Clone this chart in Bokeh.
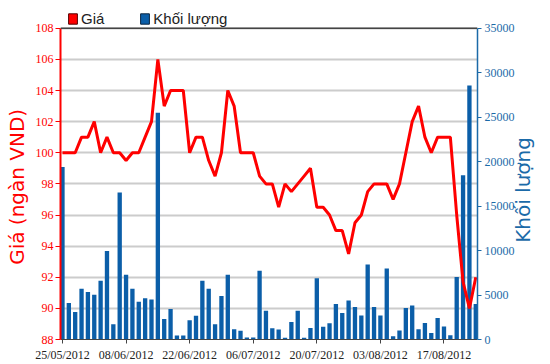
import math
from bokeh.plotting import figure
from bokeh.models import (Range1d, LinearAxis, FixedTicker, Legend, LegendItem,
                          Span, ColumnDataSource)
from bokeh.embed import file_html
from bokeh.resources import INLINE

dates = ["25/05/2012",
         "28/05/2012", "29/05/2012", "30/05/2012", "31/05/2012", "01/06/2012",
         "04/06/2012", "05/06/2012", "06/06/2012", "07/06/2012", "08/06/2012",
         "11/06/2012", "12/06/2012", "13/06/2012", "14/06/2012", "15/06/2012",
         "18/06/2012", "19/06/2012", "20/06/2012", "21/06/2012", "22/06/2012",
         "25/06/2012", "26/06/2012", "27/06/2012", "28/06/2012", "29/06/2012",
         "02/07/2012", "03/07/2012", "04/07/2012", "05/07/2012", "06/07/2012",
         "09/07/2012", "10/07/2012", "11/07/2012", "12/07/2012", "13/07/2012",
         "16/07/2012", "17/07/2012", "18/07/2012", "19/07/2012", "20/07/2012",
         "23/07/2012", "24/07/2012", "25/07/2012", "26/07/2012", "27/07/2012",
         "30/07/2012", "31/07/2012", "01/08/2012", "02/08/2012", "03/08/2012",
         "06/08/2012", "07/08/2012", "08/08/2012", "09/08/2012", "10/08/2012",
         "13/08/2012", "14/08/2012", "15/08/2012", "16/08/2012", "17/08/2012",
         "20/08/2012", "21/08/2012", "22/08/2012", "23/08/2012", "24/08/2012"]

price = [100, 100, 100, 101, 101, 102, 100, 101, 100, 100,
         99.5, 100, 100, 101, 102, 106, 103, 104, 104, 104,
         100, 101, 101, 99.5, 98.5, 100, 104, 103, 100, 100,
         100, 98.5, 98, 98, 96.5, 98, 97.5, 98, 98.5, 99,
         96.5, 96.5, 96, 95, 95, 93.5, 95.5, 96, 97.5, 98,
         98, 98, 97, 98, 100, 102, 103, 101, 100, 101,
         101, 101, 96, 91.7, 90, 92]

volume = [19400, 4100, 3090, 5720, 5350, 5020, 6620, 9960, 1710, 16540,
          7290, 5720, 4240, 4650, 4500, 25500, 2300, 3420, 450, 450,
          2160, 2680, 6620, 5720, 1710, 4900, 7290, 1150, 970, 220,
          220, 7730, 3230, 1260, 1130, 200, 1980, 3230, 200, 1300,
          6900, 1430, 1840, 3980, 2970, 4390, 3660, 2690, 8420, 3660,
          2710, 7990, 370, 1000, 3530, 3830, 1150, 1860, 740, 2410,
          1450, 480, 7020, 18480, 28550, 3980]

tick_labels = ["25/05/2012", "08/06/2012", "22/06/2012", "06/07/2012",
               "20/07/2012", "03/08/2012", "17/08/2012"]
price_ticks = [88, 90, 92, 94, 96, 98, 100, 102, 104, 106, 108]
volume_ticks = [0, 5000, 10000, 15000, 20000, 25000, 30000, 35000]
price_title = "Giá (ngàn VND)"
volume_title = "Khối lượng"
legend_labels = ["Giá", "Khối lượng"]

RED = "#ff0000"
BLUE = "#0b5ea8"
BLUE_TXT = "#1b6aa8"
NARROW = "Liberation Sans Narrow"

x = list(range(len(dates)))
src = ColumnDataSource(dict(x=x, price=price, volume=volume))
tick_pos = [dates.index(t) for t in tick_labels]

# layout (pixels): value area 60..479 x 28..342; frame extended to the top
W, H = 550, 364
FL, FR, FB = 60, 71, 22
TOP_GAP = 28
fh = H - FB
val_h = fh - TOP_GAP
x0, x1 = -0.31, 65.27
y0, y1 = price_ticks[0], price_ticks[-1]
v0, v1 = volume_ticks[0], volume_ticks[-1]
y_top = y1 + (y1 - y0) * TOP_GAP / val_h
v_top = v1 + (v1 - v0) * TOP_GAP / val_h
LT_CENTER = 342 - 188              # px above x axis: centre of left title
RT_ANCHOR = 342 - 244.5            # px above x axis where right title starts

p = figure(width=W, height=H, output_backend="svg", toolbar_location=None,
           x_range=Range1d(x0, x1), y_range=Range1d(y0, y_top),
           min_border_left=FL, min_border_right=FR,
           min_border_top=0, min_border_bottom=FB)
p.extra_y_ranges = {"vol": Range1d(v0, v_top)}
p.outline_line_color = None
p.xgrid.visible = False
p.ygrid.ticker = FixedTicker(ticks=price_ticks)
p.ygrid.grid_line_color = "#cccccc"
p.ygrid.grid_line_width = 2

p.vbar(x="x", top="volume", bottom=0, width=0.68, y_range_name="vol",
       source=src, fill_color=BLUE, line_color=None)
p.line("x", "price", source=src, line_color=RED, line_width=3)

p.add_layout(Span(location=y1, dimension="width", line_color="#444444",
                  line_width=1.5))

def style_ticks(ax, color, tick_out, standoff):
    ax.axis_line_color = color
    ax.major_tick_line_color = color
    ax.major_tick_in = 0
    ax.major_tick_out = tick_out
    ax.minor_tick_line_color = None
    ax.major_label_standoff = standoff
    ax.major_label_text_color = color
    ax.major_label_text_font = NARROW
    ax.major_label_text_font_size = "12px"

def title_axis(text, tick, standoff, color, orientation, range_name="default",
               tick_out=None):
    ax = LinearAxis(y_range_name=range_name, ticker=FixedTicker(ticks=[tick]),
                    major_label_overrides={tick: text})
    ax.axis_line_color = None
    ax.major_tick_line_color = None
    ax.minor_tick_line_color = None
    if tick_out is not None:
        ax.major_tick_out = tick_out
        ax.major_tick_in = 0
    ax.major_label_standoff = standoff
    ax.major_label_orientation = orientation
    ax.major_label_text_font = "DejaVu Sans"
    ax.major_label_text_font_size = "20px"
    ax.major_label_text_color = color
    return ax

# left axis
ya = p.yaxis[0]
ya.ticker = FixedTicker(ticks=price_ticks)
ya.bounds = (y0, y1)
style_ticks(ya, RED, 5, 2)
ya.axis_line_width = 2

t_price = y0 + (y1 - y0) * LT_CENTER / val_h
p.add_layout(title_axis(price_title, t_price, 3, RED, "parallel",
                        tick_out=0), "left")

# right axis
ra = LinearAxis(y_range_name="vol", ticker=FixedTicker(ticks=volume_ticks))
ra.bounds = (v0, v1)
style_ticks(ra, BLUE_TXT, 4, 3)
ra.axis_line_width = 1.5
p.add_layout(ra, "right")

t_vol = v0 + (v1 - v0) * RT_ANCHOR / val_h
p.add_layout(title_axis(volume_title, t_vol, 0, BLUE_TXT, math.pi / 2,
                        "vol"), "right")

# bottom axis
xa = p.xaxis[0]
xa.ticker = FixedTicker(ticks=tick_pos)
xa.major_label_overrides = {pos: lab for pos, lab in zip(tick_pos, tick_labels)}
style_ticks(xa, "#444444", 4, 4)
xa.major_label_text_color = "#222222"

# legend in the strip above the value area (proxy renderers kept hidden)
r1 = p.vbar(x="x", top="price", width=0.7, source=src, fill_color=RED,
            line_color="#550000", visible=False)
r2 = p.vbar(x="x", top="volume", width=0.7, source=src, fill_color=BLUE,
            line_color="#0a2540", y_range_name="vol", visible=False)
leg = Legend(items=[LegendItem(label=legend_labels[0], renderers=[r1]),
                    LegendItem(label=legend_labels[1], renderers=[r2])],
             location=(7, val_h - 2), orientation="horizontal", padding=0,
             margin=0, spacing=35, glyph_width=11, glyph_height=13,
             label_standoff=3, label_height=13,
             label_text_font="Liberation Sans", label_text_font_size="15px",
             label_text_color="#222222", border_line_color=None,
             background_fill_alpha=0, inactive_fill_alpha=0,
             click_policy="none")
p.add_layout(leg)

open("out.html", "w").write(file_html(p, INLINE))
